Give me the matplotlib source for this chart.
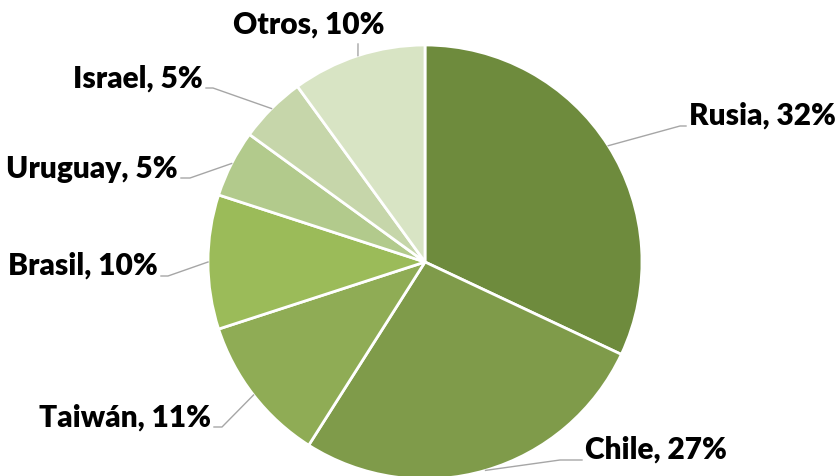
import numpy as np
import matplotlib.pyplot as plt

# Data ###############################################
paises = ['Rusia', 'Chile', 'Taiwán', 'Brasil', 'Uruguay', 'Israel', 'Otros']
porcentajes = [32, 27, 11, 10, 5, 5, 10]
colores = ['#6E8B3D', '#7F9B4A', '#8FAC55', '#9BBB59', '#B2CA8C', '#C6D6AA', '#D8E4C4']

# Layout (pixel coords, origin top-left) ############
W, H = 836, 476
cx, cy, R = 425, 262, 217
# (elbow x, elbow y, text x, text baseline y, ha)
etiquetas = {
    'Rusia':   (680, 126, 689, 125, 'left'),
    'Chile':   (560, 460, 585, 459, 'left'),
    'Taiwán':  (222, 427, 211, 427, 'right'),
    'Brasil':  (168, 276, 158, 275, 'right'),
    'Uruguay': (190, 178, 178, 178, 'right'),
    'Israel':  (213, 88, 203, 88, 'right'),
    'Otros':   (358, 44, 309, 34, 'center'),
}

fig = plt.figure(figsize=(W / 100, H / 100), dpi=100)
ax = fig.add_axes([0, 0, 1, 1])

wedges, _ = ax.pie(porcentajes, colors=colores, startangle=90, counterclock=False,
                   center=(cx, H - cy), radius=R,
                   wedgeprops=dict(edgecolor='white', linewidth=2))

ax.set_xlim(0, W)
ax.set_ylim(0, H)
ax.set_aspect('equal')
ax.axis('off')

# Labels with leader lines ###########################
for w, nombre, p in zip(wedges, paises, porcentajes):
    ang = np.deg2rad((w.theta1 + w.theta2) / 2)
    x0 = cx + R * np.cos(ang)
    y0 = (H - cy) + R * np.sin(ang)
    ex, ey, tx, ty, ha = etiquetas[nombre]
    if ha == 'center':
        ax.plot([x0, ex], [y0, H - ey], color='#A6A6A6', lw=1)
    else:
        gap = 3 if ha == 'left' else -3
        ax.plot([x0, ex, tx - gap], [y0, H - ey, H - ey], color='#A6A6A6', lw=1)
    ax.text(tx, H - ty, f'{nombre}, {p}%', ha=ha, va='baseline',
            fontsize=21.5, fontweight='heavy', family='Lato', color='black')

fig.savefig('out.png', dpi=100)
